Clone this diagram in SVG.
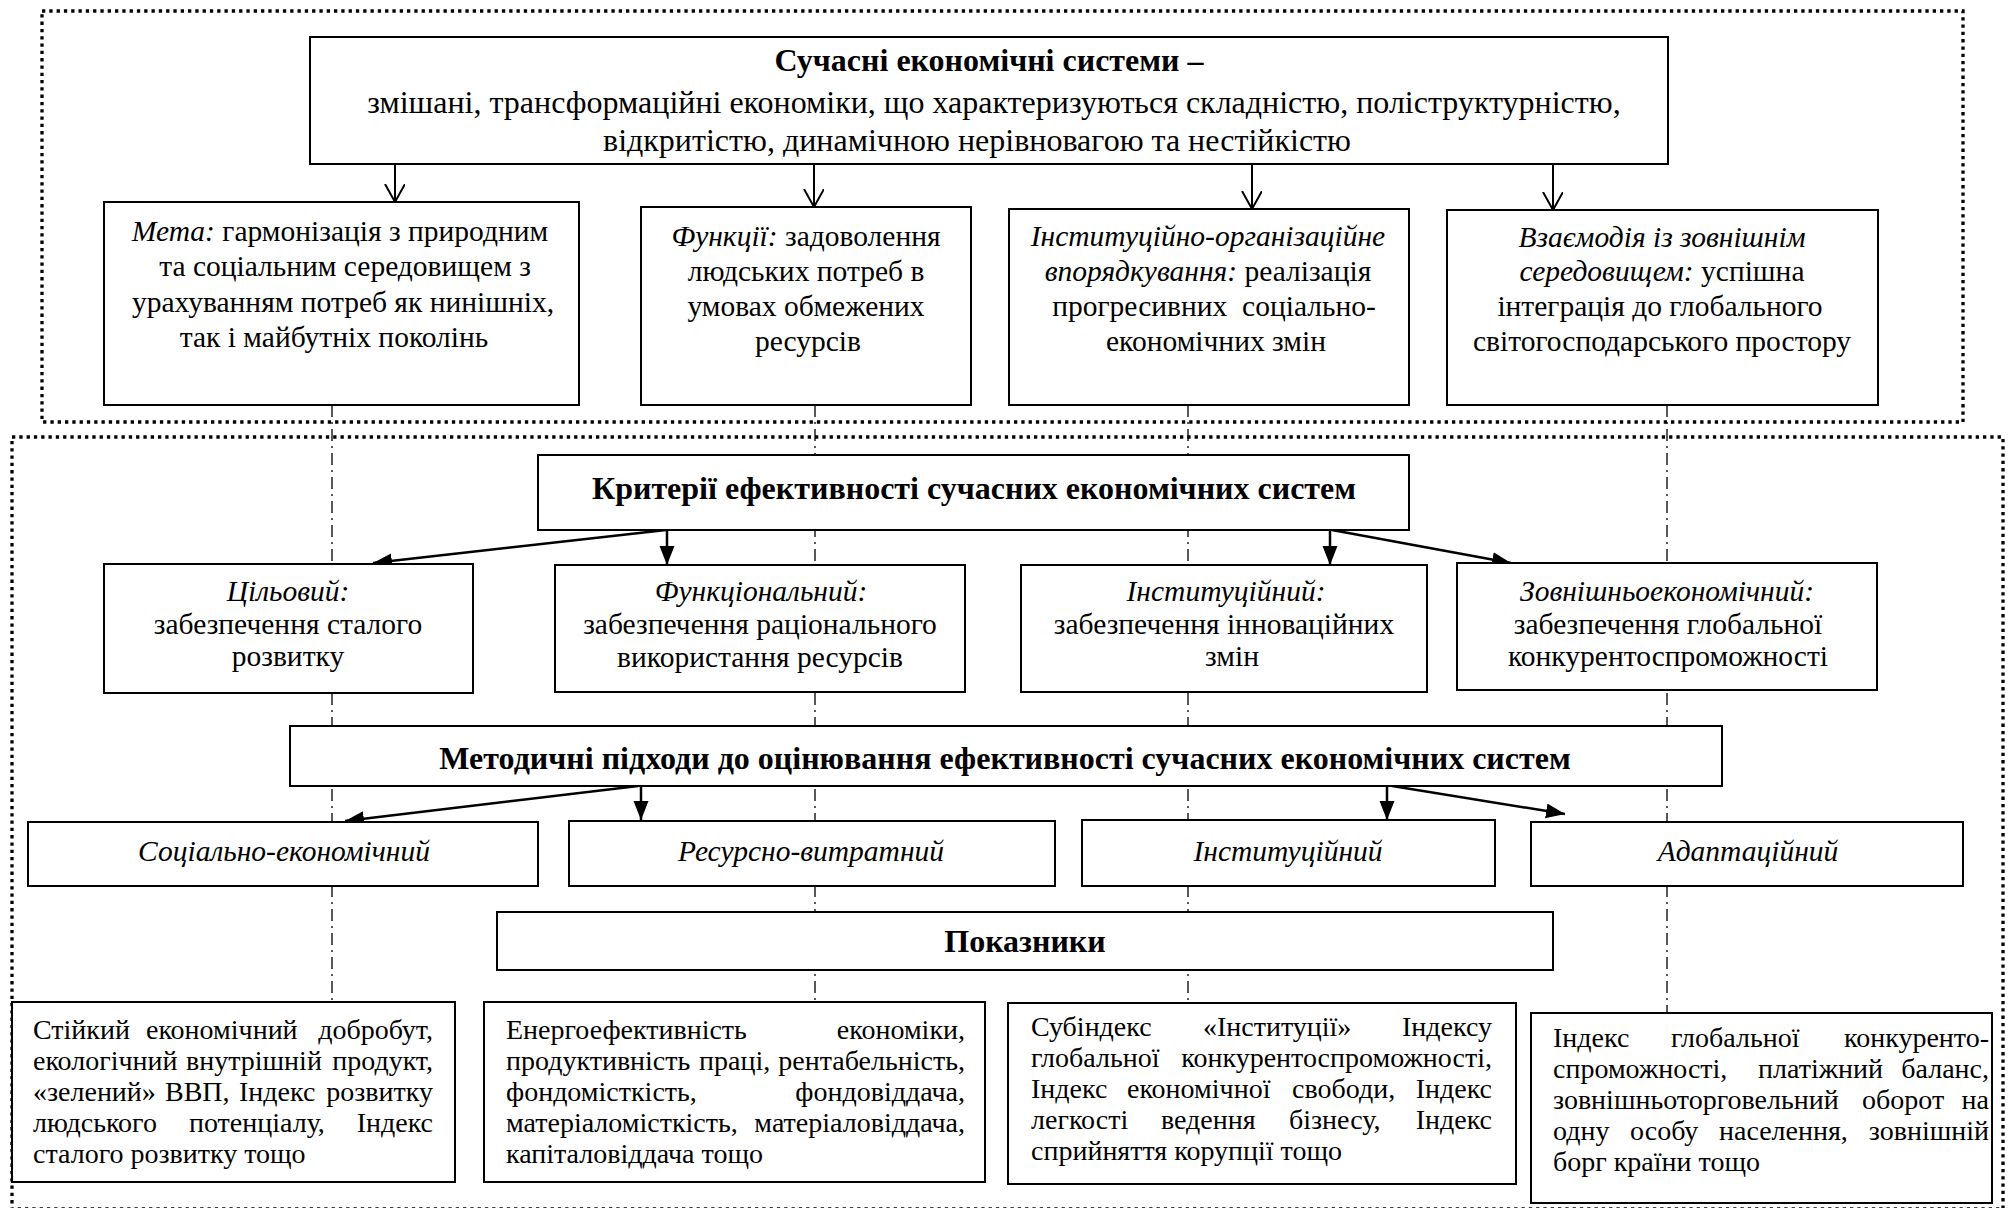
<svg xmlns="http://www.w3.org/2000/svg" width="2010" height="1208" viewBox="0 0 2010 1208">
<style>
.bg{fill:#fff}
.frame{fill:none;stroke:#000;stroke-width:3.3;stroke-dasharray:3.3 4}
.box{fill:#fff;stroke:#000;stroke-width:2}
.dd{fill:none;stroke:#000;stroke-width:1.3;stroke-dasharray:12 5 2 5}
.ar{fill:none;stroke:#000;stroke-width:2}
.af{fill:none;stroke:#000;stroke-width:2.5}
text{font-family:"Liberation Serif","Times New Roman",serif;fill:#000}
.c{text-anchor:middle}
.e{text-anchor:end}
.s32{font-size:32px}
.s30{font-size:29.5px}
.s28{font-size:28px}
.b{font-weight:bold}
.i{font-style:italic}
</style>
<defs>
<marker id="open" markerUnits="userSpaceOnUse" markerWidth="22" markerHeight="24" refX="18" refY="10" orient="auto">
<path d="M0,0 L18,10 L0,20" fill="none" stroke="#000" stroke-width="2"/>
</marker>
<marker id="fill" markerUnits="userSpaceOnUse" markerWidth="22" markerHeight="18" refX="19" refY="7.5" orient="auto">
<path d="M0,0 L19,7.5 L0,15 z" fill="#000"/>
</marker>
</defs>
<rect class="bg" x="0" y="0" width="2010" height="1208"/>
<g id="frames">
<rect class="frame" x="42" y="11" width="1921" height="411"/>
<rect class="frame" x="12" y="437" width="1991" height="772"/>
</g>
<g id="connectors">
<line class="dd" x1="332" y1="405" x2="332" y2="1002"/>
<line class="dd" x1="815" y1="405" x2="815" y2="1002"/>
<line class="dd" x1="1188" y1="405" x2="1188" y2="1003"/>
<line class="dd" x1="1667" y1="405" x2="1667" y2="1013"/>
<line class="ar" x1="395" y1="164" x2="395" y2="202" marker-end="url(#open)"/>
<line class="ar" x1="814" y1="164" x2="814" y2="207" marker-end="url(#open)"/>
<line class="ar" x1="1252" y1="164" x2="1252" y2="209" marker-end="url(#open)"/>
<line class="ar" x1="1553" y1="164" x2="1553" y2="210" marker-end="url(#open)"/>
<line class="af" x1="666" y1="530" x2="373" y2="563" marker-end="url(#fill)"/>
<line class="af" x1="667" y1="530" x2="667" y2="565" marker-end="url(#fill)"/>
<line class="af" x1="1330" y1="530" x2="1330" y2="565" marker-end="url(#fill)"/>
<line class="af" x1="1332" y1="530" x2="1511" y2="563" marker-end="url(#fill)"/>
<line class="af" x1="638" y1="786" x2="345" y2="821" marker-end="url(#fill)"/>
<line class="af" x1="641" y1="786" x2="641" y2="820" marker-end="url(#fill)"/>
<line class="af" x1="1387" y1="786" x2="1387" y2="820" marker-end="url(#fill)"/>
<line class="af" x1="1380" y1="784" x2="1565" y2="814" marker-end="url(#fill)"/>
</g>
<g id="n-top">
<rect class="box" x="310" y="37" width="1358" height="127"/>
<text class="c s32 b" x="989" y="71">Сучасні економічні системи –</text>
<text class="c s32" x="994" y="113">змішані, трансформаційні економіки, що характеризуються складністю, поліструктурністю,</text>
<text class="c s32" x="977" y="151">відкритістю, динамічною нерівновагою та нестійкістю</text>
</g>
<g id="n-meta">
<rect class="box" x="104" y="202" width="475" height="203"/>
<text class="c s30" x="340" y="241"><tspan class="i">Мета:</tspan> гармонізація з природним</text>
<text class="c s30" x="345" y="276">та соціальним середовищем з</text>
<text class="c s30" x="343" y="312">урахуванням потреб як нинішніх,</text>
<text class="c s30" x="334" y="347">так і майбутніх поколінь</text>
</g>
<g id="n-funkcii">
<rect class="box" x="641" y="207" width="330" height="198"/>
<text class="c s30" x="806" y="246"><tspan class="i">Функції:</tspan> задоволення</text>
<text class="c s30" x="806" y="281">людських потреб в</text>
<text class="c s30" x="806" y="316">умовах обмежених</text>
<text class="c s30" x="808" y="351">ресурсів</text>
</g>
<g id="n-instorg">
<rect class="box" x="1009" y="209" width="400" height="196"/>
<text class="c s30 i" x="1208" y="246">Інституційно-організаційне</text>
<text class="c s30" x="1208" y="281"><tspan class="i">впорядкування:</tspan> реалізація</text>
<text class="c s30" x="1214" y="316" xml:space="preserve">прогресивних  соціально-</text>
<text class="c s30" x="1216" y="351">економічних змін</text>
</g>
<g id="n-vzaiemodiia">
<rect class="box" x="1447" y="210" width="431" height="195"/>
<text class="c s30 i" x="1662" y="247">Взаємодія із зовнішнім</text>
<text class="c s30" x="1662" y="281"><tspan class="i">середовищем:</tspan> успішна</text>
<text class="c s30" x="1660" y="316">інтеграція до глобального</text>
<text class="c s30" x="1662" y="351">світогосподарського простору</text>
</g>
<g id="n-kryterii">
<rect class="box" x="538" y="455" width="871" height="75"/>
<text class="c s32 b" x="974" y="499">Критерії ефективності сучасних економічних систем</text>
</g>
<g id="n-tsilovyi">
<rect class="box" x="104" y="564" width="369" height="129"/>
<text class="c s30 i" x="288" y="601">Цільовий:</text>
<text class="c s30" x="288" y="634">забезпечення сталого</text>
<text class="c s30" x="288" y="666">розвитку</text>
</g>
<g id="n-funktsionalnyi">
<rect class="box" x="555" y="565" width="410" height="127"/>
<text class="c s30 i" x="761" y="601">Функціональний:</text>
<text class="c s30" x="760" y="634">забезпечення раціонального</text>
<text class="c s30" x="760" y="667">використання ресурсів</text>
</g>
<g id="n-instytutsiinyi">
<rect class="box" x="1021" y="565" width="406" height="127"/>
<text class="c s30 i" x="1226" y="601">Інституційний:</text>
<text class="c s30" x="1224" y="634">забезпечення інноваційних</text>
<text class="c s30" x="1232" y="666">змін</text>
</g>
<g id="n-zovnishnyo">
<rect class="box" x="1457" y="563" width="420" height="127"/>
<text class="c s30 i" x="1667" y="601">Зовнішньоекономічний:</text>
<text class="c s30" x="1668" y="634">забезпечення глобальної</text>
<text class="c s30" x="1668" y="666">конкурентоспроможності</text>
</g>
<g id="n-metodychni">
<rect class="box" x="290" y="726" width="1432" height="60"/>
<text class="c s32 b" x="1005" y="769">Методичні підходи до оцінювання ефективності сучасних економічних систем</text>
</g>
<g id="n-sotsialno">
<rect class="box" x="28" y="822" width="510" height="64"/>
<text class="c s30 i" x="284" y="861">Соціально-економічний</text>
</g>
<g id="n-resursno">
<rect class="box" x="569" y="821" width="486" height="65"/>
<text class="c s30 i" x="811" y="861">Ресурсно-витратний</text>
</g>
<g id="n-instytutsiinyi-m">
<rect class="box" x="1082" y="820" width="413" height="66"/>
<text class="c s30 i" x="1288" y="861">Інституційний</text>
</g>
<g id="n-adaptatsiinyi">
<rect class="box" x="1531" y="822" width="432" height="64"/>
<text class="c s30 i" x="1748" y="861">Адаптаційний</text>
</g>
<g id="n-pokaznyky">
<rect class="box" x="497" y="912" width="1056" height="58"/>
<text class="c s32 b" x="1025" y="952">Показники</text>
</g>
<g id="n-ind1">
<rect class="box" x="12" y="1002" width="443" height="180"/>
<text class="s28" y="1039"><tspan x="33">Стійкий</tspan><tspan x="146">економічний</tspan><tspan class="e" x="433">добробут,</tspan></text>
<text class="s28" y="1070"><tspan x="33">екологічний</tspan><tspan x="186">внутрішній</tspan><tspan class="e" x="433">продукт,</tspan></text>
<text class="s28" y="1101"><tspan x="33">«зелений»</tspan><tspan x="165">ВВП,</tspan><tspan x="239">Індекс</tspan><tspan class="e" x="433">розвитку</tspan></text>
<text class="s28" y="1132"><tspan x="33">людського</tspan><tspan x="189">потенціалу,</tspan><tspan class="e" x="433">Індекс</tspan></text>
<text class="s28" x="33" y="1163">сталого розвитку тощо</text>
</g>
<g id="n-ind2">
<rect class="box" x="484" y="1002" width="501" height="180"/>
<text class="s28" y="1039"><tspan x="506">Енергоефективність</tspan><tspan class="e" x="965">економіки,</tspan></text>
<text class="s28" y="1070"><tspan x="506">продуктивність</tspan><tspan x="699">праці,</tspan><tspan class="e" x="965">рентабельність,</tspan></text>
<text class="s28" y="1101"><tspan x="506">фондомісткість,</tspan><tspan class="e" x="965">фондовіддача,</tspan></text>
<text class="s28" y="1132"><tspan x="506">матеріаломісткість,</tspan><tspan class="e" x="965">матеріаловіддача,</tspan></text>
<text class="s28" x="506" y="1163">капіталовіддача тощо</text>
</g>
<g id="n-ind3">
<rect class="box" x="1008" y="1003" width="508" height="181"/>
<text class="s28" y="1036"><tspan x="1031">Субіндекс</tspan><tspan x="1203">«Інституції»</tspan><tspan class="e" x="1492">Індексу</tspan></text>
<text class="s28" y="1067"><tspan x="1031">глобальної</tspan><tspan class="e" x="1492">конкурентоспроможності,</tspan></text>
<text class="s28" y="1098"><tspan x="1031">Індекс</tspan><tspan x="1127">економічної</tspan><tspan x="1292">свободи,</tspan><tspan class="e" x="1492">Індекс</tspan></text>
<text class="s28" y="1129"><tspan x="1031">легкості</tspan><tspan x="1161">ведення</tspan><tspan x="1289">бізнесу,</tspan><tspan class="e" x="1492">Індекс</tspan></text>
<text class="s28" x="1031" y="1160">сприйняття корупції тощо</text>
</g>
<g id="n-ind4">
<rect class="box" x="1531" y="1013" width="461" height="190"/>
<text class="s28" y="1047"><tspan x="1553">Індекс</tspan><tspan x="1671">глобальної</tspan><tspan class="e" x="1989">конкуренто-</tspan></text>
<text class="s28" y="1078"><tspan x="1553">спроможності,</tspan><tspan x="1758">платіжний</tspan><tspan class="e" x="1989">баланс,</tspan></text>
<text class="s28" y="1109"><tspan x="1553">зовнішньоторговельний</tspan><tspan x="1862">оборот</tspan><tspan class="e" x="1989">на</tspan></text>
<text class="s28" y="1140"><tspan x="1553">одну</tspan><tspan x="1630">особу</tspan><tspan x="1719">населення,</tspan><tspan class="e" x="1989">зовнішній</tspan></text>
<text class="s28" x="1553" y="1171">борг країни тощо</text>
</g>
</svg>
